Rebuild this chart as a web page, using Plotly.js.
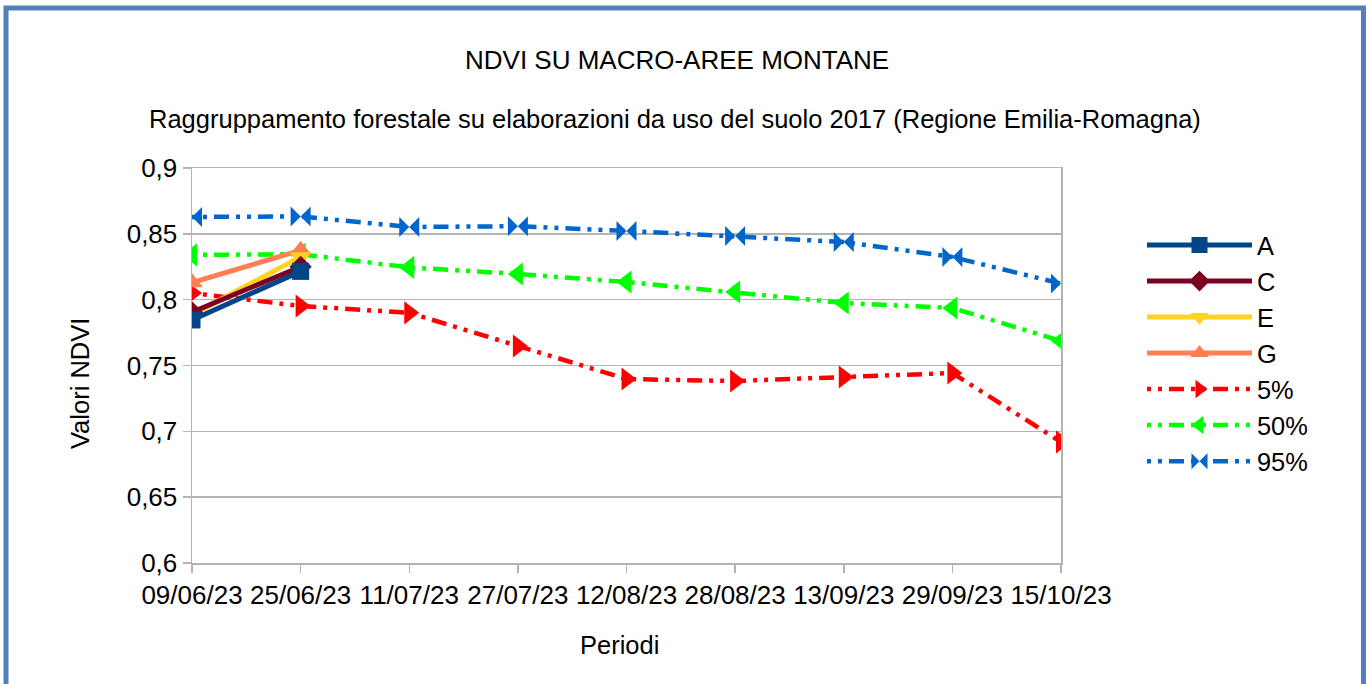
<!DOCTYPE html>
<html>
<head>
<meta charset="utf-8">
<script src="https://cdn.plot.ly/plotly-3.0.1.min.js"></script>
<style>html,body{margin:0;padding:0;background:#fff;}#chart{width:1366px;height:684px;}</style>
</head>
<body>
<div id="chart"></div>
<script>
const periodi = ["09/06/23","25/06/23","11/07/23","27/07/23","12/08/23","28/08/23","13/09/23","29/09/23","15/10/23"];
const serieA = [0.7846, 0.8215];
const serieC = [0.7905, 0.8250];
const serieE = [0.7885, 0.8325];
const serieG = [0.8130, 0.8375];
const p5  = [0.8050, 0.7952, 0.7900, 0.7648, 0.7397, 0.7382, 0.7413, 0.7443, 0.6919];
const p50 = [0.8340, 0.8345, 0.8245, 0.8195, 0.8134, 0.8058, 0.7975, 0.7937, 0.7686];
const p95 = [0.8628, 0.8632, 0.8552, 0.8558, 0.8522, 0.8484, 0.8438, 0.8324, 0.8122];
const yTickVals = [0.6, 0.65, 0.7, 0.75, 0.8, 0.85, 0.9];
const yTickText = ["0,6","0,65","0,7","0,75","0,8","0,85","0,9"];

const L = 192, R = 1061, T = 168, B = 563;
const W = R - L, H = B - T;
const px = x => (x - L) / W;
const py = y => (B - y) / H;

const dashP = "4px,7px,4px,7px,15px,7px";
function tr(name, vals, color, sym, size, dash, rank, width) {
  return {
    type: "scatter", mode: "lines+markers", name: name,
    x: periodi.slice(0, vals.length), y: vals,
    line: {color: color, width: width || 5, dash: dash || "solid"},
    marker: {symbol: sym, size: size, color: color, line: {width: 0}},
    legendrank: rank
  };
}
const data = [
  tr("95%", p95, "#0066CC", "bowtie", 20, dashP, 7, 4.5),
  tr("50%", p50, "#00FF00", "triangle-left", 20, dashP, 6, 4.5),
  tr("5%", p5, "#FF0000", "triangle-right", 20, dashP, 5, 4.5),
  tr("G", serieG, "#FF7F50", "triangle-up", 19, null, 4),
  tr("E", serieE, "#FFD320", "triangle-down", 19, null, 3),
  tr("C", serieC, "#7E0021", "diamond", 17, null, 2),
  tr("A", serieA, "#004586", "square", 17, null, 1)
];
const fam = "Liberation Sans, Arial, sans-serif";
const fTick = {family: fam, size: 26, color: "#000"};
const fTitle = {family: fam, size: 26, color: "#000"};
const fSub = {family: fam, size: 25.5, color: "#000"};
const fAx = {family: fam, size: 25.5, color: "#000"};
const fLeg = {family: fam, size: 25.4, color: "#000"};
const layout = {
  width: 1366, height: 684,
  margin: {l: L, r: 1366 - R, t: T, b: 684 - B, pad: 0},
  paper_bgcolor: "#fff", plot_bgcolor: "#fff",
  font: fTick,
  showlegend: true,
  legend: {x: px(1142), y: py(222), xanchor: "left", yanchor: "top",
           font: fLeg, itemwidth: 105, bgcolor: "rgba(0,0,0,0)",
           traceorder: "normal"},
  xaxis: {type: "category", categoryorder: "array", categoryarray: periodi,
          range: [0, periodi.length - 1], showgrid: false, zeroline: false,
          showline: true, mirror: true, linecolor: "#b3b3b3", linewidth: 1.5,
          ticks: "outside", ticklen: 8, tickcolor: "#b3b3b3", tickwidth: 1.5,
          tickfont: fTick, fixedrange: true},
  yaxis: {range: [0.6, 0.9], tickvals: yTickVals, ticktext: yTickText,
          showgrid: true, gridcolor: "#b3b3b3", gridwidth: 1.5, zeroline: false,
          showline: true, mirror: true, linecolor: "#b3b3b3", linewidth: 1.5,
          ticks: "outside", ticklen: 8, tickcolor: "#b3b3b3", tickwidth: 1.5,
          tickfont: fTick, fixedrange: true},
  annotations: [
    {text: "NDVI SU MACRO-AREE MONTANE", xref: "paper", yref: "paper", x: px(677), y: py(60),
     showarrow: false, xanchor: "center", yanchor: "middle", font: fTitle},
    {text: "Raggruppamento forestale su elaborazioni da uso del suolo 2017 (Regione Emilia-Romagna)",
     xref: "paper", yref: "paper", x: px(675), y: py(119),
     showarrow: false, xanchor: "center", yanchor: "middle", font: fSub},
    {text: "Valori NDVI", xref: "paper", yref: "paper", x: px(80), y: py(383), textangle: -90,
     showarrow: false, xanchor: "center", yanchor: "middle", font: fAx},
    {text: "Periodi", xref: "paper", yref: "paper", x: px(619), y: py(645),
     showarrow: false, xanchor: "center", yanchor: "middle", font: fAx}
  ],
  shapes: [
    {type: "rect", xref: "paper", yref: "paper", x0: px(6), x1: px(1363.5), y0: py(8), y1: py(700),
     line: {color: "#4F81BD", width: 5}, fillcolor: "rgba(0,0,0,0)", layer: "above"}
  ]
};
Plotly.newPlot("chart", data, layout, {staticPlot: true, displayModeBar: false});
</script>
</body>
</html>
